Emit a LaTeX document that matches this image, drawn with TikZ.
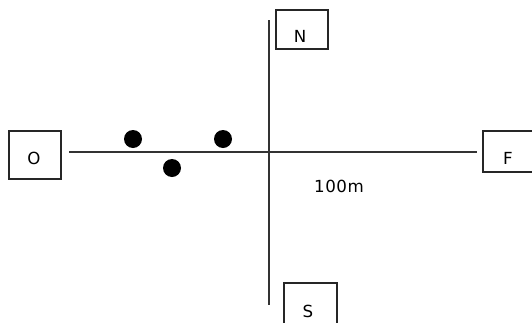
\documentclass[tikz,border=0pt]{standalone}
\usepackage{fontspec}
\setmainfont{DejaVu Sans}[LetterSpace=3]
\begin{document}
\begin{tikzpicture}[x=0.75pt,y=-0.75pt,
  box/.style={draw=black!85,line width=1.1pt},
  axis/.style={draw=black!80,line width=0.9pt},
  lbl/.style={font=\fontsize{12.5}{14}\selectfont,inner sep=0pt},
  dot/.style={circle,fill=black,inner sep=0pt,minimum size=13.5pt}]
\useasboundingbox (0,0) rectangle (532,322);
\begin{scope}
\clip (0,0) rectangle (532,322);
\draw[box] (9,131) rectangle (61,179);
\draw[box] (276,10) rectangle (328,49);
\draw[box] (284,283) rectangle (337,340);
\draw[box] (483,131) rectangle (545,172);
\end{scope}
\node[lbl] (o) at (34,158) {O};
\node[lbl] (n) at (300,36) {N};
\node[lbl] (s) at (308,311) {S};
\node[lbl] (f) at (508,158) {F};
\node[lbl] (d) at (339,186) {100m};
\coordinate (w) at (69,152);
\coordinate (e) at (477,152);
\coordinate (t) at (269,20);
\coordinate (b) at (269,305);
\draw[axis] (w) -- (e);
\draw[axis] (t) -- (b);
\node[dot] (p1) at (133,139) {};
\node[dot] (p2) at (223,139) {};
\node[dot] (p3) at (172,168) {};
\end{tikzpicture}
\end{document}
